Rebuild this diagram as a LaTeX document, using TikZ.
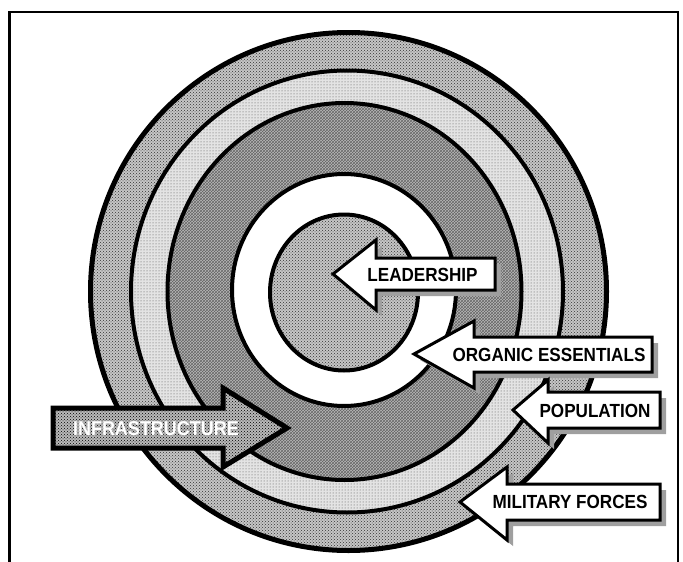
\documentclass[tikz,border=0pt]{standalone}
\usepackage{fontspec}
\usetikzlibrary{patterns}
\newfontfamily\arrowfont{Liberation Sans}[FakeStretch=0.9]
\begin{document}
\begin{tikzpicture}[x=1pt,y=1pt]
    \tikzstyle{every node}+=[inner sep=0pt]
    \tikzstyle{ring}=[black, line width=4]
    \tikzstyle{block}=[black, line width=3, fill=white, line join=miter]
    \tikzstyle{shade}=[fill=gray!75]
    \tikzstyle{word}=[font=\arrowfont\bfseries\fontsize{19}{19}\selectfont]
    \useasboundingbox (0,0) rectangle (683,-562);
    % frame
    \draw [black, line width=2.5] (9.5,-562) -- (9.5,-12) -- (678,-12) -- (678,-562);
    % rings, outside in
    \draw [ring, line width=5, preaction={fill=gray!45}, pattern=crosshatch dots, pattern color=black!80] (348.5,-291.5) ellipse (258 and 259);
    \draw [ring, preaction={fill=gray!22}, pattern=dots, pattern color=black!70] (347,-291.5) ellipse (216 and 221);
    \draw [ring, preaction={fill=gray!55}, pattern=crosshatch, pattern color=black!60] (344.5,-291.5) ellipse (177 and 188.5);
    \draw [ring, fill=white] (344,-290) ellipse (112 and 116);
    \draw [ring, preaction={fill=gray!45}, pattern=crosshatch dots, pattern color=black!80] (344,-292.5) ellipse (74 and 78);
    % infrastructure
    \draw [black, line width=5, preaction={fill=gray!55}, pattern=crosshatch dots, pattern color=black, line join=miter] (53,-408) -- (223,-408) -- (223,-388) -- (287,-428) -- (223,-467) -- (223,-448) -- (53,-448) -- cycle;
    \node [word, white, font=\arrowfont\bfseries\fontsize{20}{20}\selectfont] (infra) at (156,-428.5) {INFRASTRUCTURE};
    % leadership
    \fill [shade, shift={(6,-6)}] (333,-274) -- (376,-240) -- (376,-258) -- (495,-258) -- (495,-290) -- (376,-290) -- (376,-310) -- cycle;
    \draw [block] (333,-274) -- (376,-240) -- (376,-258) -- (495,-258) -- (495,-290) -- (376,-290) -- (376,-310) -- cycle;
    \node [word] (leadership) at (422.5,-274.5) {LEADERSHIP};
    % organic essentials
    \fill [shade, shift={(6,-6)}] (414,-354) -- (474,-321) -- (474,-337) -- (652,-337) -- (652,-372) -- (474,-372) -- (474,-388) -- cycle;
    \draw [block] (414,-354) -- (474,-321) -- (474,-337) -- (652,-337) -- (652,-372) -- (474,-372) -- (474,-388) -- cycle;
    \node [word] (organic) at (549,-354.5) {ORGANIC ESSENTIALS};
    % population
    \fill [shade, shift={(6,-6)}] (513,-410) -- (548,-380) -- (548,-392) -- (660,-392) -- (660,-428) -- (548,-428) -- (548,-443) -- cycle;
    \draw [block] (513,-410) -- (548,-380) -- (548,-392) -- (660,-392) -- (660,-428) -- (548,-428) -- (548,-443) -- cycle;
    \node [word] (population) at (595,-410.5) {POPULATION};
    % military forces
    \fill [shade, shift={(6,-6)}] (460,-502) -- (507,-467) -- (507,-484) -- (660,-484) -- (660,-520) -- (507,-520) -- (507,-540) -- cycle;
    \draw [block] (460,-502) -- (507,-467) -- (507,-484) -- (660,-484) -- (660,-520) -- (507,-520) -- (507,-540) -- cycle;
    \node [word] (military) at (570,-501.5) {MILITARY FORCES};
\end{tikzpicture}
\end{document}
